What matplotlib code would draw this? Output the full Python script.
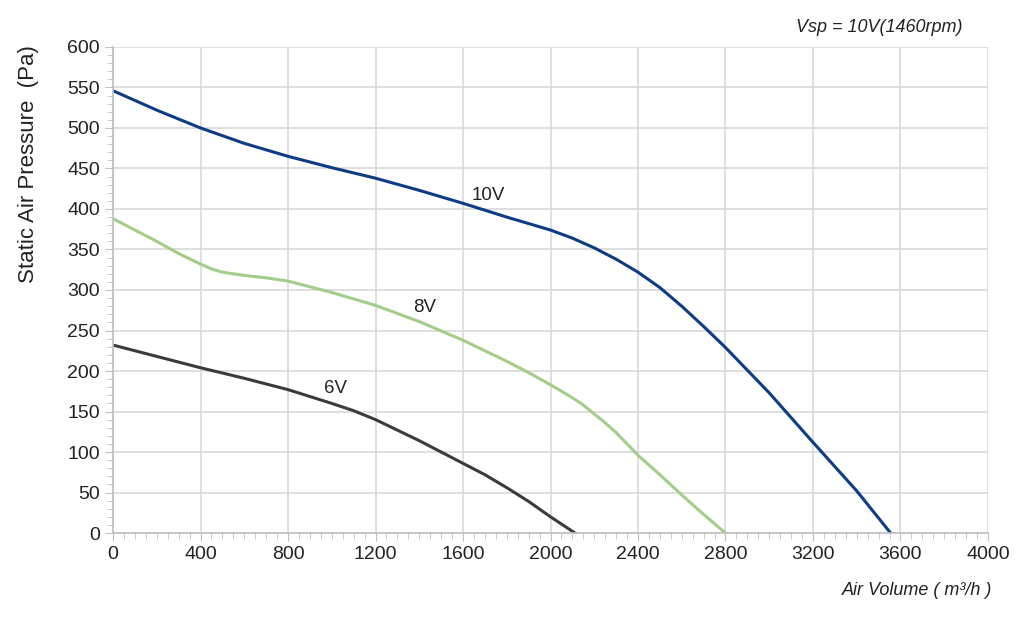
import matplotlib.pyplot as plt
from matplotlib.ticker import MultipleLocator

plt.rcParams['font.family'] = ['Liberation Sans', 'DejaVu Sans']

# fan curves
x_10v = [0, 200, 400, 600, 800, 1000, 1200, 1400, 1600, 1800, 1900, 2000, 2100, 2200, 2300, 2400,
         2500, 2600, 2700, 2800, 2900, 3000, 3200, 3400, 3555]
p_10v = [546, 522, 500, 481, 465, 451, 438, 423, 407, 390, 382, 374, 364, 352, 338, 322,
         303, 280, 255, 229, 201, 173, 112, 52, 0]

x_8v = [0, 100, 200, 300, 400, 450, 500, 600, 700, 800, 1000, 1200, 1400, 1600, 1800, 1900,
        2000, 2100, 2150, 2200, 2250, 2300, 2400, 2500, 2600, 2700, 2800]
p_8v = [388, 374, 360, 345, 332, 326, 322, 318, 315, 311, 297, 281, 261, 238, 212, 198,
        183, 167, 158, 147, 136, 124, 96, 72, 47, 23, 0]

x_6v = [0, 200, 400, 600, 800, 1000, 1100, 1200, 1300, 1400, 1500, 1600, 1700, 1800, 1900, 2000, 2112]
p_6v = [232, 218, 204, 191, 177, 160, 151, 140, 127, 114, 100, 86, 72, 56, 39, 20, 0]

curve_labels = ['10V', '8V', '6V']
label_pos = [(1714, 417), (1426, 278), (1019, 179)]

fig = plt.figure(figsize=(10.24, 6.18), dpi=100)
ax = fig.add_axes([0.1104, 0.1375, 0.8544, 0.7865])

ax.plot(x_10v, p_10v, color='#0d3c85', lw=2.2, solid_joinstyle='round')
ax.plot(x_8v, p_8v, color='#a3cd8a', lw=2.2, solid_joinstyle='round')
ax.plot(x_6v, p_6v, color='#3b3b3b', lw=2.2, solid_joinstyle='round')

for lab, (lx, ly) in zip(curve_labels, label_pos):
    ax.text(lx, ly, lab, fontsize=13.5, ha='center', va='center', color='#222222')

ax.set_xlim(0, 4000)
ax.set_ylim(0, 600)
ax.xaxis.set_major_locator(MultipleLocator(400))
ax.xaxis.set_minor_locator(MultipleLocator(50))
ax.yaxis.set_major_locator(MultipleLocator(50))
ax.yaxis.set_minor_locator(MultipleLocator(10))
ax.grid(True, which='major', color='#d9d9d9', lw=1.2)
ax.set_axisbelow(True)

for s in ['top', 'right']:
    ax.spines[s].set_visible(False)
for s in ['left', 'bottom']:
    ax.spines[s].set_color('#bfbfbf')
    ax.spines[s].set_linewidth(1.2)

ax.tick_params(which='major', length=6, color='#bfbfbf', labelsize=14, labelcolor='#222222')
ax.tick_params(which='minor', length=4, color='#bfbfbf')

# y label sits high, not centred on the axis
ax.set_ylabel('Static Air Pressure  (Pa)', fontsize=16, color='#222222')
ax.yaxis.set_label_coords(-0.085, 0.76)
ax.set_xlabel('Air Volume ( m³/h )', fontsize=13, style='italic', color='#222222')
ax.xaxis.set_label_coords(1.005, -0.1)
ax.xaxis.label.set_ha('right')

fig.text(0.94, 0.955, 'Vsp = 10V(1460rpm)', fontsize=13, style='italic',
         ha='right', va='center', color='#222222')

fig.savefig('out.png')
